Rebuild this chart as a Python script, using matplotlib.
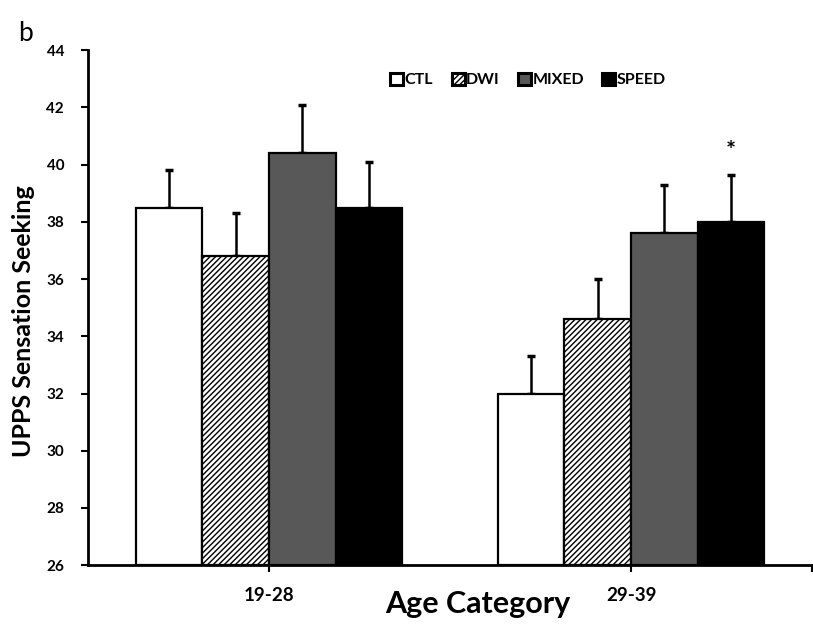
import numpy as np
import matplotlib
matplotlib.use("Agg")
from matplotlib import pyplot as plt

# data
groups = ["19-28", "29-39"]
series = ["CTL", "DWI", "MIXED", "SPEED"]
ctl = [38.5, 32.0]
dwi = [36.8, 34.6]
mixed = [40.4, 37.6]
speed = [38.5, 38.0]
ctl_err = [1.3, 1.3]
dwi_err = [1.5, 1.4]
mixed_err = [1.7, 1.7]
speed_err = [1.6, 1.65]
yticks = [26, 28, 30, 32, 34, 36, 38, 40, 42, 44]

plt.rcParams['font.family'] = ['Lato', 'DejaVu Sans']
plt.rcParams['hatch.linewidth'] = 1.0

fig = plt.figure(figsize=(8.13, 6.28), dpi=100)
ax = fig.add_axes([0.108, 0.100, 0.891, 0.820])

x = np.arange(len(groups))
w = 0.184
vals = [ctl, dwi, mixed, speed]
errs = [ctl_err, dwi_err, mixed_err, speed_err]
faces = ["white", "white", "#585858", "black"]
hatches = [None, "//////", None, None]

for i in range(4):
    xs = x + (i - 1.5) * w
    ax.bar(xs, np.array(vals[i]) - 26, w, bottom=26, color=faces[i],
           edgecolor="black", linewidth=1.6, hatch=hatches[i],
           label=series[i], zorder=2)
    ax.errorbar(xs, vals[i], yerr=[[0, 0], errs[i]], fmt="none",
                ecolor="black", elinewidth=1.8, capsize=3, capthick=2.5,
                zorder=1)

# significance marker above SPEED 29-39
ax.text(x[1] + 1.5 * w, speed[1] + speed_err[1] + 0.8, "*",
        ha="center", va="center", fontsize=17, fontweight="bold")

ax.set_xlim(-0.5, 1.5)
ax.set_ylim(26, 44)
ax.set_yticks(yticks)
ax.set_yticklabels([str(t) for t in yticks], fontsize=11, fontweight="bold")
ax.set_xticks(x)
ax.set_xticklabels(groups, fontsize=13.5, fontweight="bold")
ax.set_xticks([1.5], minor=True)
ax.tick_params(axis="both", which="both", direction="out", length=5, width=1.5)
ax.tick_params(axis="x", pad=11)
ax.tick_params(axis="y", pad=12)

for s in ["top", "right"]:
    ax.spines[s].set_visible(False)
for s in ["left", "bottom"]:
    ax.spines[s].set_linewidth(2)

ax.set_ylabel("UPPS Sensation Seeking", fontsize=18, fontweight="bold")
ax.yaxis.set_label_coords(-0.073, 0.474)
ax.set_xlabel("Age Category", fontsize=22, fontweight="bold")
ax.xaxis.set_label_coords(0.539, -0.048)

leg = ax.legend(ncol=4, frameon=False, loc="center", bbox_to_anchor=(0.608, 0.942),
                prop={"size": 11.5, "weight": "bold"}, handlelength=0.8, handleheight=0.8,
                handletextpad=0.1, columnspacing=1.15)
for h in leg.legend_handles:
    h.set_linewidth(2.2)

fig.text(0.022, 0.935, "b", fontsize=19)

fig.savefig("out.png", dpi=100)
